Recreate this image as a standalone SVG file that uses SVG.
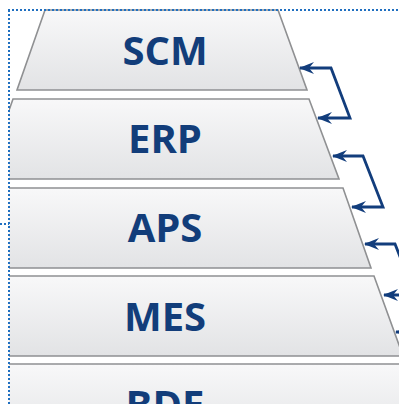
<svg xmlns="http://www.w3.org/2000/svg" width="399" height="404" viewBox="0 0 399 404">
<defs>
<linearGradient id="g" x1="0" y1="0" x2="0" y2="1">
<stop offset="0" stop-color="#f8f8f9"/>
<stop offset="1" stop-color="#e2e3e5"/>
</linearGradient>
<clipPath id="c"><rect x="9" y="0" width="400" height="410"/></clipPath>
<marker id="ah" viewBox="0 0 15 12" refX="14" refY="6" markerWidth="15" markerHeight="12" markerUnits="userSpaceOnUse" orient="auto-start-reverse">
<path d="M0,0 L15,6 L0,12 L5,6 z" fill="#123d7c"/>
</marker>
</defs>
<style>
.layer polygon{fill:url(#g);stroke:#8f9092;stroke-width:1.6}
.layer text{font-family:"Open Sans","Liberation Sans",sans-serif;font-weight:bold;font-size:40px;fill:#123d7a;text-anchor:middle}
.conn path{fill:none;stroke:#123d7c;stroke-width:2.8;marker-start:url(#ah);marker-end:url(#ah)}
.frame line{stroke:#1f6fc0;stroke-width:2;stroke-dasharray:2 2}
</style>
<g clip-path="url(#c)">
<g id="scm" class="layer"><polygon points="45,10 278,10 307,90 17,90"/><text x="165" y="65">SCM</text></g>
<g id="erp" class="layer"><polygon points="13,99 309,99 339,179 -15,179"/><text x="165" y="153">ERP</text></g>
<g id="aps" class="layer"><polygon points="-20,188 343,188 371,268 -20,268"/><text x="165" y="242">APS</text></g>
<g id="mes" class="layer"><polygon points="-20,276 374,276 403,356 -20,356"/><text x="165" y="331">MES</text></g>
<g id="bde" class="layer"><polygon points="-20,364 406,364 436,444 -20,444"/><text x="165" y="419">BDE</text></g>
</g>
<g id="connectors" class="conn">
<path d="M318,118 L350,118 L331,68 L300,68"/>
<path d="M352,207 L383,207 L363,156 L333,156"/>
<path d="M384,295 L415,295 L395,244 L365,244"/>
<path d="M416,383 L447,383 L427,332 L396,332"/>
</g>
<g class="frame">
<line x1="8" y1="10" x2="399" y2="10"/>
<line x1="9" y1="10" x2="9" y2="404"/>
<line x1="0" y1="224" x2="9" y2="224"/>
</g>
</svg>
